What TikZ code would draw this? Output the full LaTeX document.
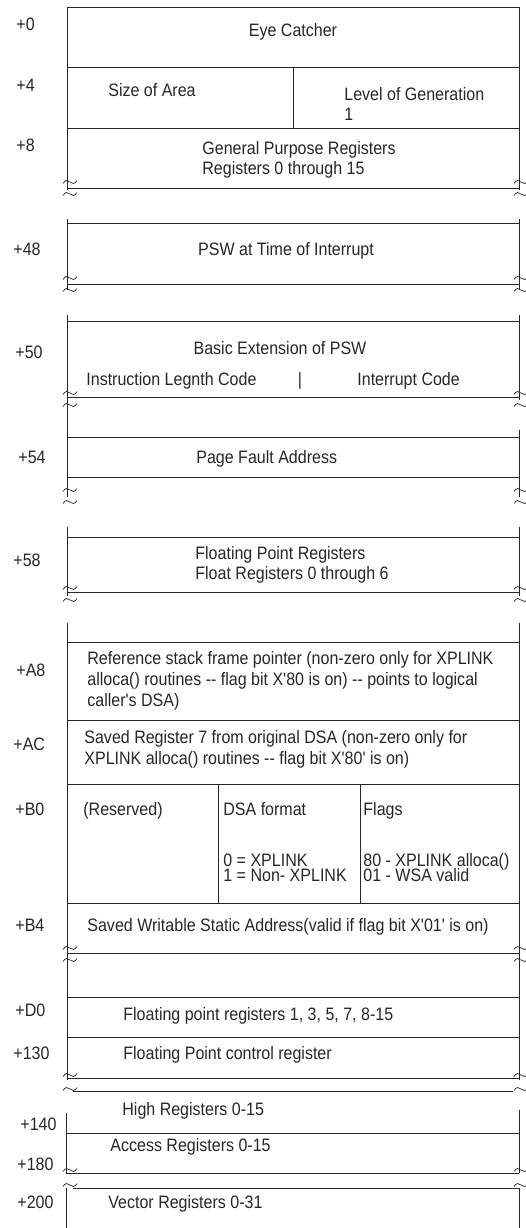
\documentclass[tikz,border=0pt]{standalone}
\usepackage{fontspec}
\setmainfont{Liberation Sans}[FakeStretch=0.89, Ligatures=TeXOff]
\tikzset{
  fld/.style={anchor=west, inner sep=0pt, align=left},
  fld1/.style={fld, text height=0.73em, text depth=0pt},
  offs/.style={anchor=west, inner sep=0pt, text height=0.73em, text depth=0pt},
  brk/.pic={\draw[line width=0.7pt] (-7,1.5) sin (-3.5,-1.5) cos (0,0) sin (3.5,1.5) cos (7,-1.5);}
}
\begin{document}
\begin{tikzpicture}[x=1pt, y=-1pt, line width=0.8pt, black!85, font=\fontsize{18}{20}\selectfont]
\useasboundingbox (0,0) rectangle (526,1228);

% Frame lines
\draw (67,7) -- (67,190) (519,7) -- (519,190);
\draw (67,7) -- (519,7) (67,67) -- (519,67) (67,128) -- (519,128) (67,188) -- (519,188);
\draw (293,67) -- (293,128);
\draw (67,219) -- (67,290) (519,219) -- (519,290);
\draw (67,223) -- (519,223) (67,284) -- (519,284);
\draw (67,315) -- (67,497) (519,315) -- (519,400) (519,430) -- (519,497);
\draw (67,321) -- (519,321) (67,397) -- (519,397) (67,437) -- (519,437) (67,477) -- (519,477);
\draw (67,527) -- (67,596) (519,527) -- (519,596);
\draw (67,537) -- (519,537) (67,592) -- (519,592);
\draw (67,623) -- (67,1080) (519,623) -- (519,1080);
\draw (67,642) -- (519,642) (67,720) -- (519,720) (67,784) -- (519,784) (67,903) -- (519,903);
\draw (218,784) -- (218,903) (360,784) -- (360,903);
\draw (67,953) -- (519,953) (67,997) -- (519,997) (67,1037) -- (519,1037);
\draw[line width=1pt] (67,1078) -- (519,1078);
\draw[line width=0.6pt] (73,1091) -- (513,1091);
\draw (66,1113) -- (66,1173) (519,1110) -- (519,1173);
\draw (66,1133) -- (519,1133) (66,1173) -- (519,1173);
\draw (73,1188) -- (519,1188);
\draw (66,1188) -- (66,1228) (519,1188) -- (519,1228);

% Breaks
\foreach \y in {182,194,278,290,393,405,490,502,588,600,948,960,1075,1089,1170,1185}
  \pic at (70,\y) {brk};
\foreach \y in {182,194,278,290,393,405,490,502,588,600,948,960,1075,1089,1170,1185}
  \pic at (521,\y) {brk};

% Offsets
\node[offs] (o0) at (16,27) {+0};
\node[offs] (o4) at (16,88) {+4};
\node[offs] (o8) at (16,148) {+8};
\node[offs] (o48) at (13,252) {+48};
\node[offs] (o50) at (15,355) {+50};
\node[offs] (o54) at (18,460) {+54};
\node[offs] (o58) at (13,563) {+58};
\node[offs] (oA8) at (16,673) {+A8};
\node[offs] (oAC) at (13,747) {+AC};
\node[offs] (oB0) at (15,812) {+B0};
\node[offs] (oB4) at (15,928) {+B4};
\node[offs] (oD0) at (15,1013) {+D0};
\node[offs] (o130) at (13,1056) {+130};
\node[offs] (o140) at (20,1127) {+140};
\node[offs] (o180) at (17,1167) {+180};
\node[offs] (o200) at (17,1205) {+200};

% Fields
\node[fld1, anchor=center] (eye) at (293,33) {Eye Catcher};
\node[fld1] (size) at (108,93) {Size of Area};
\node[fld] (level) at (344,104) {Level of Generation\\1};
\node[fld] (gpr) at (202,160) {General Purpose Registers\\Registers 0 through 15};
\node[fld1, anchor=center] (psw) at (286,252) {PSW at Time of Interrupt};
\node[fld1, anchor=center] (bext) at (280,351) {Basic Extension of PSW};
\node[fld1] (ilc) at (86,382) {Instruction Legnth Code};
\node[fld1, anchor=center] (bar) at (300,382) {|};
\node[fld1] (intc) at (357,382) {Interrupt Code};
\node[fld1] (pfa) at (196,460) {Page Fault Address};
\node[fld] (fpr) at (195,565) {Floating Point Registers\\Float Registers 0 through 6};
\node[fld, font=\fontsize{18}{21}\selectfont] (rsfp) at (87,681)
  {Reference stack frame pointer (non-zero only for XPLINK\\alloca() routines -- flag bit X'80 is on) -- points to logical\\caller's DSA)};
\node[fld, font=\fontsize{18}{21}\selectfont] (sr7) at (84,749.5)
  {Saved Register 7 from original DSA (non-zero only for\\XPLINK alloca() routines -- flag bit X'80' is on)};
\node[fld1] (resv) at (83,812) {(Reserved)};
\node[fld1] (dsaf) at (223,812) {DSA format};
\node[fld1] (dsa0) at (223,863) {0 = XPLINK};
\node[fld1] (dsa1) at (223,878) {1 = Non- XPLINK};
\node[fld1] (flags) at (363,812) {Flags};
\node[fld1] (flg80) at (363,863) {80 - XPLINK alloca()};
\node[fld1] (flg01) at (363,878) {01 - WSA valid};
\node[fld1] (wsa) at (87,928) {Saved Writable Static Address(valid if flag bit X'01' is on)};
\node[fld1] (fpr2) at (123,1017) {Floating point registers 1, 3, 5, 7, 8-15};
\node[fld1] (fpc) at (123,1056) {Floating Point control register};
\node[fld1] (high) at (122,1112) {High Registers 0-15};
\node[fld1] (acc) at (110,1148) {Access Registers 0-15};
\node[fld1] (vec) at (108,1205) {Vector Registers 0-31};
\end{tikzpicture}
\end{document}
